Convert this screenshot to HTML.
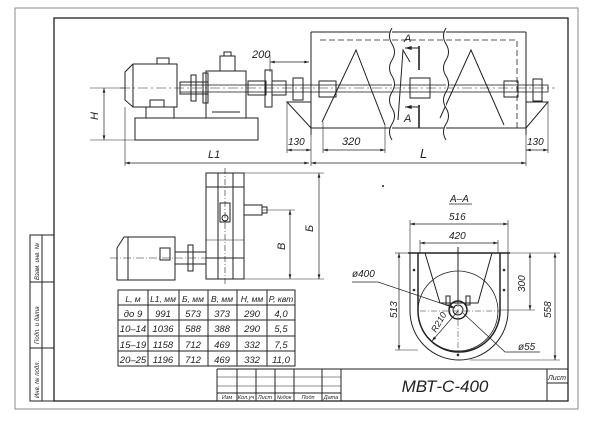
<!DOCTYPE html>
<html><head><meta charset="utf-8"><style>
html,body{margin:0;padding:0;background:#fff;}
svg{display:block;}
text{font-family:"Liberation Sans",sans-serif;font-style:italic;fill:#222;}
</style></head><body>
<svg width="600" height="424" viewBox="0 0 600 424" xmlns="http://www.w3.org/2000/svg">
<defs>
<marker id="a" viewBox="0 0 10 6" refX="10" refY="3" markerWidth="7" markerHeight="4" orient="auto-start-reverse"><path d="M0,0 L10,3 L0,6 z" fill="#222"/></marker>
</defs>
<rect width="600" height="424" fill="#fff"/>
<g fill="none" stroke="#222" stroke-width="1">
<rect x="15" y="8" width="563" height="401" stroke="#888"/>
<rect x="54" y="18" width="514" height="383" stroke-width="1.3"/>
<rect x="30" y="235" width="24" height="166"/>
<line x1="42" y1="235" x2="42" y2="401"/>
<line x1="30" y1="282" x2="54" y2="282"/>
<line x1="30" y1="348" x2="54" y2="348"/>

<path d="M125,72 L133,64 L177,64 L177,107 L133,107 L125,100 Z"/>
<line x1="133" y1="64" x2="133" y2="107"/>
<rect x="157" y="58" width="12" height="6"/>
<rect x="150" y="100" width="14" height="7"/>
<rect x="146" y="107" width="28" height="11"/>
<rect x="135" y="118" width="123" height="22"/>
<rect x="206" y="71" width="40" height="47"/>
<rect x="220" y="56" width="15" height="15"/>
<rect x="224" y="52" width="7" height="4"/>
<line x1="212" y1="112" x2="240" y2="112"/>
<rect x="180" y="82" width="28" height="12"/>
<rect x="191" y="75" width="5" height="26"/>
<rect x="203" y="73" width="5" height="30"/>
<rect x="248" y="81" width="18" height="14"/>
<rect x="265" y="70" width="7" height="37"/>
<rect x="272" y="81" width="14" height="14"/>
<rect x="293" y="78" width="10" height="22"/>
<rect x="180" y="85" width="368" height="7" stroke-width=".8"/>
<line x1="120" y1="88" x2="555" y2="88" stroke-dasharray="10,3,2,3" stroke-width=".6"/>
<line x1="311" y1="32" x2="311" y2="135"/>
<line x1="526" y1="32" x2="526" y2="135"/>
<line x1="311" y1="32" x2="526" y2="32"/>
<line x1="311" y1="128" x2="526" y2="128"/>
<path d="M320,40 L517,40 L517,128" stroke-dasharray="6,3" stroke-width=".8"/>
<path d="M322,122 L356,50 L385,125"/>
<path d="M398,120 L403,50 L410,62"/>
<path d="M440,118 L471,50 L504,125"/>
<rect x="319" y="81" width="17" height="16"/>
<rect x="504" y="81" width="14" height="16"/>
<rect x="410" y="78" width="20" height="20"/>
<rect x="533" y="79" width="9" height="22"/>
<path d="M392,28 q-5,8 0,16 q5,8 0,16 q-5,8 0,16 q5,8 0,16 q-5,8 0,16 q5,8 0,16 q-5,8 0,16" fill="#fff"/>
<path d="M446,28 q-5,8 0,16 q5,8 0,16 q-5,8 0,16 q5,8 0,16 q-5,8 0,16 q5,8 0,16 q-5,8 0,16" fill="#fff"/>
<line x1="419" y1="46" x2="419" y2="70" stroke-width="1.6"/>
<line x1="419" y1="105" x2="419" y2="128" stroke-width="1.6"/>
<line x1="419" y1="48" x2="405" y2="48" marker-end="url(#a)"/>
<line x1="419" y1="107" x2="405" y2="107" marker-end="url(#a)"/>
<path d="M287,102 L311,102 L311,128 Z"/>
<path d="M526,102 L548,102 L526,128 Z"/>
<line x1="90" y1="88" x2="125" y2="88" stroke-width=".6"/>
<line x1="90" y1="140" x2="135" y2="140" stroke-width=".6"/>
<line x1="104" y1="88" x2="104" y2="140" marker-start="url(#a)" marker-end="url(#a)" stroke-width=".7"/>
<line x1="125" y1="107" x2="125" y2="166" stroke-width=".6"/>
<line x1="287" y1="102" x2="287" y2="153" stroke-width=".6"/>
<line x1="548" y1="102" x2="548" y2="153" stroke-width=".6"/>
<line x1="323" y1="122" x2="323" y2="153" stroke-width=".6"/>
<line x1="385" y1="125" x2="385" y2="153" stroke-width=".6"/>
<line x1="311" y1="135" x2="311" y2="166" stroke-width=".6"/>
<line x1="526" y1="135" x2="526" y2="166" stroke-width=".6"/>
<line x1="125" y1="163" x2="309" y2="163" marker-start="url(#a)" marker-end="url(#a)" stroke-width=".7"/>
<line x1="311" y1="163" x2="526" y2="163" marker-start="url(#a)" marker-end="url(#a)" stroke-width=".7"/>
<line x1="287" y1="150" x2="311" y2="150" marker-start="url(#a)" marker-end="url(#a)" stroke-width=".7"/>
<line x1="323" y1="150" x2="385" y2="150" marker-start="url(#a)" marker-end="url(#a)" stroke-width=".7"/>
<line x1="526" y1="150" x2="548" y2="150" marker-start="url(#a)" marker-end="url(#a)" stroke-width=".7"/>
<line x1="270" y1="55" x2="270" y2="72" stroke-width=".6"/>
<line x1="270" y1="62" x2="309" y2="62" marker-start="url(#a)" marker-end="url(#a)" stroke-width=".7"/>

<rect x="206" y="173" width="38" height="106"/>
<line x1="218" y1="173" x2="218" y2="279"/>
<line x1="233" y1="173" x2="233" y2="279"/>
<line x1="206" y1="187" x2="244" y2="187"/>
<line x1="206" y1="240" x2="244" y2="240" stroke-width=".6"/>
<line x1="206" y1="258" x2="244" y2="258"/>
<line x1="225" y1="168" x2="225" y2="285" stroke-dasharray="6,2,1,2" stroke-width=".6"/>
<rect x="220" y="203" width="10" height="19"/>
<circle cx="225" cy="218" r="3"/>
<rect x="244" y="205" width="18" height="10"/>
<rect x="262" y="207" width="5" height="6"/>
<path d="M117,248 L124,237 L175,237 L175,280 L117,280 Z"/>
<line x1="128" y1="237" x2="128" y2="280"/>
<rect x="160" y="248" width="10" height="12"/>
<rect x="175" y="252" width="31" height="12"/>
<rect x="188" y="245" width="5" height="26"/>
<line x1="110" y1="258" x2="210" y2="258" stroke-dasharray="8,2,1,2" stroke-width=".6"/>
<line x1="244" y1="173" x2="324" y2="173" stroke-width=".6"/>
<line x1="244" y1="279" x2="324" y2="279" stroke-width=".6"/>
<line x1="262" y1="210" x2="295" y2="210" stroke-width=".6"/>
<line x1="319" y1="173" x2="319" y2="279" marker-start="url(#a)" marker-end="url(#a)" stroke-width=".7"/>
<line x1="290" y1="210" x2="290" y2="279" marker-start="url(#a)" marker-end="url(#a)" stroke-width=".7"/>

<rect x="118" y="290" width="177" height="76"/>
<line x1="118" y1="305" x2="295" y2="305"/>
<line x1="118" y1="320" x2="295" y2="320"/>
<line x1="118" y1="336" x2="295" y2="336"/>
<line x1="118" y1="351" x2="295" y2="351"/>
<line x1="148" y1="290" x2="148" y2="366"/>
<line x1="179" y1="290" x2="179" y2="366"/>
<line x1="208" y1="290" x2="208" y2="366"/>
<line x1="237" y1="290" x2="237" y2="366"/>
<line x1="267" y1="290" x2="267" y2="366"/>

<line x1="217" y1="369" x2="568" y2="369"/>
<line x1="217" y1="369" x2="217" y2="401"/>
<line x1="217" y1="377" x2="341" y2="377" stroke-width=".6"/>
<line x1="217" y1="386" x2="341" y2="386" stroke-width=".6"/>
<line x1="217" y1="393" x2="341" y2="393"/>
<line x1="237" y1="369" x2="237" y2="401"/>
<line x1="256" y1="369" x2="256" y2="401"/>
<line x1="275" y1="369" x2="275" y2="401"/>
<line x1="294" y1="369" x2="294" y2="401"/>
<line x1="322" y1="369" x2="322" y2="401"/>
<line x1="341" y1="369" x2="341" y2="401"/>
<line x1="547" y1="369" x2="547" y2="401"/>
<line x1="547" y1="383" x2="568" y2="383"/>

<path d="M410,253 L410,311 A49,49 0 0 0 508,311 L508,253"/>
<path d="M418,253 L418,311 A41,41 0 0 0 500,311 L500,253" stroke-width="1.5"/>
<line x1="408" y1="253" x2="510" y2="253" stroke-width="1.5"/>
<circle cx="458" cy="311" r="40" stroke-width=".8"/>
<path d="M425,253 L440,303 L478,303 L492,253"/>
<line x1="458" y1="247" x2="458" y2="303"/>
<circle cx="458" cy="310" r="9" stroke-width="1.5"/>
<circle cx="458" cy="310" r="5"/>
<rect x="446" y="296" width="4" height="9"/>
<rect x="466" y="296" width="4" height="9"/>
<line x1="420" y1="311" x2="500" y2="311" stroke-dasharray="6,2,1,2" stroke-width=".5"/>
<line x1="458" y1="265" x2="458" y2="355" stroke-dasharray="6,2,1,2" stroke-width=".5"/>
<circle cx="414" cy="270" r=".8"/><circle cx="414" cy="290" r=".8"/><circle cx="504" cy="270" r=".8"/><circle cx="504" cy="290" r=".8"/><circle cx="458" cy="355" r=".8"/>
<line x1="410" y1="220" x2="410" y2="253" stroke-width=".6"/>
<line x1="508" y1="220" x2="508" y2="253" stroke-width=".6"/>
<line x1="410" y1="224" x2="508" y2="224" marker-start="url(#a)" marker-end="url(#a)" stroke-width=".7"/>
<line x1="420" y1="240" x2="420" y2="253" stroke-width=".6"/>
<line x1="498" y1="240" x2="498" y2="253" stroke-width=".6"/>
<line x1="420" y1="243" x2="498" y2="243" marker-start="url(#a)" marker-end="url(#a)" stroke-width=".7"/>
<line x1="395" y1="253" x2="410" y2="253" stroke-width=".6"/>
<line x1="395" y1="350" x2="418" y2="350" stroke-width=".6"/>
<line x1="399" y1="253" x2="399" y2="350" marker-start="url(#a)" marker-end="url(#a)" stroke-width=".7"/>
<line x1="508" y1="253" x2="560" y2="253" stroke-width=".6"/>
<line x1="470" y1="360" x2="560" y2="360" stroke-width=".6"/>
<line x1="555" y1="253" x2="555" y2="360" marker-start="url(#a)" marker-end="url(#a)" stroke-width=".7"/>
<line x1="500" y1="310" x2="535" y2="310" stroke-width=".6"/>
<line x1="530" y1="253" x2="530" y2="310" marker-start="url(#a)" marker-end="url(#a)" stroke-width=".7"/>
<path d="M352,282 L378,282 L455,308" stroke-width=".7" marker-end="url(#a)"/>
<path d="M463,313 L505,352 L540,352" stroke-width=".7"/>
<line x1="458" y1="311" x2="432" y2="341" stroke-width=".7" marker-end="url(#a)"/>
</g>
<line x1="449" y1="204" x2="472" y2="204" stroke="#222" stroke-width=".8"/>
<circle cx="383" cy="186" r="1" fill="#222"/>

<g font-size="11">
<text x="252" y="58">200</text>
<text x="288" y="145" font-size="10">130</text>
<text x="342" y="145">320</text>
<text x="527" y="145" font-size="10">130</text>
<text x="208" y="158">L1</text>
<text x="420" y="158" font-size="13">L</text>
<text x="404" y="42">A</text>
<text x="404" y="122">A</text>
<text transform="translate(98,120) rotate(-90)">H</text>
<text transform="translate(313,232) rotate(-90)">Б</text>
<text transform="translate(285,250) rotate(-90)">В</text>
<text x="450" y="202" font-size="10">A–A</text>
<text x="449" y="220" font-size="10">516</text>
<text x="449" y="239" font-size="10">420</text>
<text x="352" y="277" font-size="10">ø400</text>
<text x="518" y="350" font-size="10">ø55</text>
<text transform="translate(397,318) rotate(-90)" font-size="10">513</text>
<text transform="translate(525,292) rotate(-90)" font-size="10">300</text>
<text transform="translate(551,318) rotate(-90)" font-size="10">558</text>
<text transform="translate(436,333) rotate(-60)" font-size="9">R210</text>
</g>
<g font-size="9.5" text-anchor="middle">
<text x="133" y="302" font-size="8.5">L, м</text><text x="163" y="302" font-size="8.5">L1, мм</text><text x="193" y="302" font-size="8.5">Б, мм</text><text x="222" y="302" font-size="8.5">В, мм</text><text x="252" y="302" font-size="8.5">Н, мм</text><text x="281" y="302" font-size="8.5">Р, квт</text>
<text x="133" y="317">до 9</text><text x="163" y="317">991</text><text x="193" y="317">573</text><text x="222" y="317">373</text><text x="252" y="317">290</text><text x="281" y="317">4,0</text>
<text x="133" y="332">10–14</text><text x="163" y="332">1036</text><text x="193" y="332">588</text><text x="222" y="332">388</text><text x="252" y="332">290</text><text x="281" y="332">5,5</text>
<text x="133" y="348">15–19</text><text x="163" y="348">1158</text><text x="193" y="348">712</text><text x="222" y="348">469</text><text x="252" y="348">332</text><text x="281" y="348">7,5</text>
<text x="133" y="363">20–25</text><text x="163" y="363">1196</text><text x="193" y="363">712</text><text x="222" y="363">469</text><text x="252" y="363">332</text><text x="281" y="363">11,0</text>
</g>
<g font-size="5.5" text-anchor="middle">
<text x="227" y="399">Изм</text><text x="246" y="399">Кол.уч</text><text x="265" y="399">Лист</text><text x="284" y="399">№док</text><text x="308" y="399">Подп</text><text x="331" y="399">Дата</text>
<text x="557" y="380" font-size="7">Лист</text>
</g>
<text x="445" y="392" font-size="17" text-anchor="middle">МВТ-С-400</text>
<g font-size="6">
<text transform="translate(39,280) rotate(-90)">Взам. инв. №</text>
<text transform="translate(39,344) rotate(-90)">Подп. и дата</text>
<text transform="translate(39,398) rotate(-90)">Инв. № подл.</text>
</g>
</svg>
</body></html>
